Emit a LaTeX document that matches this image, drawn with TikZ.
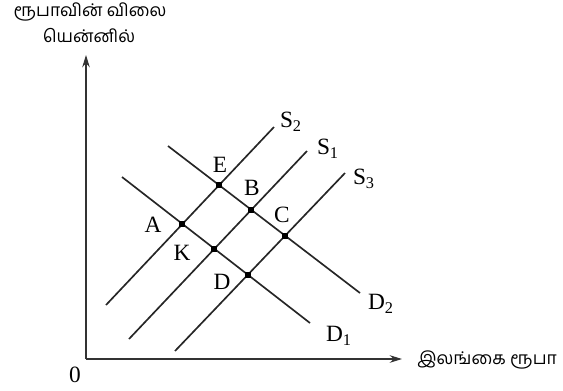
\documentclass[tikz,border=0pt]{standalone}
\usepackage{fontspec}
\setmainfont{Liberation Serif}
\newfontfamily\tamilfont[Script=Tamil]{Hind Madurai}
\usetikzlibrary{arrows.meta}

\begin{document}
\begin{tikzpicture}[x=0.6pt, y=-0.6pt,
    curve/.style={line width=1pt, black!85},
    axis/.style={line width=0.7pt, black!80, -{Stealth[length=2.6mm, width=1.6mm]}},
    eq/.style={rectangle, fill=black, inner sep=0pt, minimum size=3.6pt},
    lbl/.style={font=\fontsize{14}{14}\selectfont, inner sep=0pt},
    tam/.style={font=\tamilfont\fontsize{10.5}{10.5}\selectfont, inner sep=0pt}
]
\useasboundingbox (0,0) rectangle (563,390);

% axes
\coordinate (origin) at (86,359);
\coordinate (ytop) at (86,55);
\coordinate (xend) at (402,359);
\draw[axis] (origin) -- (ytop);
\draw[axis] (origin) -- (xend);
\node[lbl] (zero) at (75,375) {0};
\node[tam] (ytitle) at (90,12) {ரூபாவின் விலை};
\node[tam] (yunit) at (89,36) {யென்னில்};
\node[tam, anchor=west] (xtitle) at (417,360) {இலங்கை ரூபா};

% supply and demand lines
\coordinate (s2a) at (106,305); \coordinate (s2b) at (274,127);
\coordinate (s1a) at (129,339); \coordinate (s1b) at (307,151);
\coordinate (s3a) at (175,351); \coordinate (s3b) at (345,173);
\coordinate (d1a) at (122,177); \coordinate (d1b) at (310,323);
\coordinate (d2a) at (168,146); \coordinate (d2b) at (360,293);
\foreach \c in {s1,s2,s3,d1,d2}
    \draw[curve] (\c a) -- (\c b);

\node[lbl] (labS2) at (291,122) {S\textsubscript{2}};
\node[lbl] (labS1) at (328,149) {S\textsubscript{1}};
\node[lbl] (labS3) at (364,179) {S\textsubscript{3}};
\node[lbl] (labD2) at (381,304) {D\textsubscript{2}};
\node[lbl] (labD1) at (339,336) {D\textsubscript{1}};

% equilibrium points
\foreach \p/\s/\d in {A/s2/d1, K/s1/d1, D/s3/d1, E/s2/d2, B/s1/d2, C/s3/d2}
    \node[eq] (pt\p) at (intersection of \s a--\s b and \d a--\d b) {};

\node[lbl] (labE) at (220,165) {E};
\node[lbl] (labB) at (252,188) {B};
\node[lbl] (labC) at (282,215) {C};
\node[lbl] (labA) at (153,225) {A};
\node[lbl] (labK) at (182,253) {K};
\node[lbl] (labD) at (222,282) {D};
\end{tikzpicture}
\end{document}
